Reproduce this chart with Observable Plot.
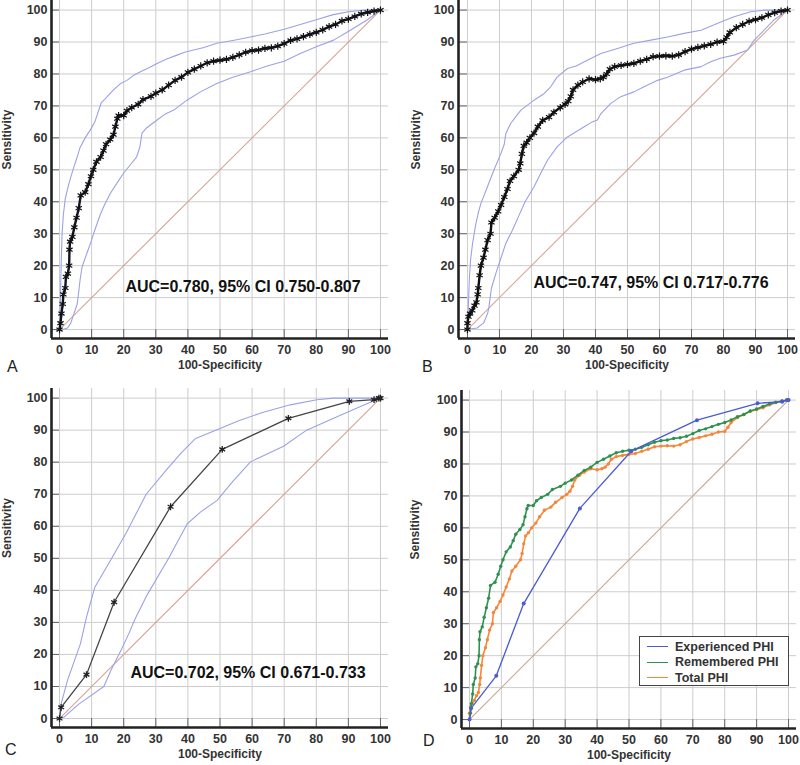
<!DOCTYPE html>
<html><head><meta charset="utf-8">
<script src="https://cdn.jsdelivr.net/npm/d3@7"></script>
<script src="https://cdn.jsdelivr.net/npm/@observablehq/plot@0.6"></script>
<style>
body{margin:0;background:#fff;}
#wrap{position:relative;width:800px;height:765px;overflow:hidden;font-family:"Liberation Sans",Arial,sans-serif;background:#fff;}
.panel{position:absolute;}
.letter{position:absolute;font-size:16px;line-height:20px;color:#222;}
.legend{position:absolute;left:639px;top:636px;width:150px;height:50px;border:1px solid #444;background:#fff;box-sizing:border-box;padding-top:2px;}
.legend .row{display:flex;align-items:center;height:15.5px;font-size:12.5px;font-weight:700;color:#333;font-family:"Liberation Sans",Arial,sans-serif;}
.legend .sw{width:21px;height:0;border-top:1.5px solid;margin-left:7px;margin-right:7px;}
</style></head><body><div id="wrap"></div>
<script>
// ---------- data ----------
const tickVals = [0,10,20,30,40,50,60,70,80,90,100];
const chance = [0,100];

// Panel A: Remembered PHI, AUC 0.780
const rocA = [[0,0],[0.3,2],[0.6,5],[1,8],[1.2,11],[1.8,13],[2,16.5],[2.6,17.5],[3,20],[3.1,25],[3.3,27.5],[4,29],[4.6,32],[5.3,35],[6,38],[6.6,42],[8,43],[9,45.5],[9.8,48],[10.5,50],[11.5,52.5],[12.8,54],[13.7,56],[14.5,58],[15.8,59.5],[16.8,61],[17.4,63.5],[18,66],[18.4,67],[20,67],[21,68.5],[22.5,69.5],[24.5,70.5],[26,72],[28.5,73],[30,74],[32,75],[34,76.5],[36,78],[38,79],[40,80.5],[42,81.5],[44,82.5],[46,83.5],[48,84],[50,84.3],[52,84.6],[54,85.2],[56,86],[58,86.8],[60,87.3],[62,87.5],[64,88],[66,88.2],[68,88.7],[70,89.5],[72,90.5],[74,91],[76,91.7],[78,92.4],[80,93],[82,93.8],[84,94.8],[86,95.5],[88,96.6],[90,97.2],[92,98],[94,98.8],[96,99.3],[98,99.7],[100,100]];
const ciUpperA = [[0,0],[0.3,10],[0.5,20],[0.8,30],[1.2,36],[1.8,41],[2.5,44],[3.3,47],[4.5,51],[5.5,54],[6.4,57],[8,60],[9.6,62.5],[11,65],[12,68],[13,71],[14,72],[16.8,75],[19,77],[21,78],[23,79.5],[25.2,80.7],[28,82],[30.4,83.3],[33,84.5],[36.6,85.9],[39,86.8],[41.8,87.5],[45,88.3],[49,89.6],[54,90.5],[59.5,91.6],[64,92.5],[70,94],[75,95.5],[80,97],[85,98.5],[90,99.5],[95,100],[100,100]];
const ciLowerA = [[0,0],[1,0],[2.5,0.5],[3.5,2],[4.5,5],[5.5,8],[6,12],[6.4,15.5],[7,19.5],[8.5,23.8],[10,28],[10.6,30],[12.7,36],[14,39],[15.8,42.6],[18,46],[20,49],[22,51.5],[24,54],[25,57],[25.7,61.5],[27,63],[30.4,65.6],[33,67.5],[35.6,68.7],[39.7,71.8],[43.9,74.4],[49,77],[54,79],[59.5,80.7],[64.7,82.5],[70,84],[75,86.4],[80,88.5],[85.4,90.6],[90.6,93.7],[95.8,96.9],[100,100]];

// Panel B: Total PHI, AUC 0.747
const rocB = [[0,0],[0,2],[0.3,4],[0.8,5],[1.5,6],[2.2,7.5],[2.8,8.5],[3.2,11],[3.4,13],[3.8,17],[4.2,20],[5,22.5],[5.6,25],[6.3,28],[7.2,30],[7.5,33.5],[8.5,35],[9.6,37],[10.5,39],[11.5,41.5],[12.5,44],[13.3,46.5],[14.5,48],[16,50],[16.5,52],[17,55],[17.6,57.5],[18.5,58.5],[19.5,60],[20.8,61.5],[22,63.5],[23.5,65.5],[25.5,66.5],[27,68],[29,69.5],[30.5,70.5],[31.5,71.5],[32.3,73],[33,75],[34.5,76.5],[36,77.5],[38,78.5],[40,78.2],[41.5,78.5],[42.5,79],[43.5,80],[44.5,81.5],[46,82.3],[48,82.7],[50,83],[52,83.3],[54,84],[56,84.6],[58,85.4],[60,85.6],[62,85.7],[64,85.6],[66,86],[68,87],[70,87.8],[72,88.3],[74,88.8],[76,89.3],[78,90],[80,90.2],[81,91.5],[82,93],[84,94.5],[86,95.5],[88,96.5],[90,97],[92,97.6],[94,98.5],[96,99.2],[98,99.7],[100,100]];
const ciUpperB = [[0,0],[0.3,8],[0.6,16],[1,22],[1.6,27],[2.6,33],[3.5,37],[4.2,39.5],[6.25,44.7],[8.3,50],[10.4,55],[11.5,58],[12,61.4],[13.5,64.5],[15,66.5],[16.7,68.7],[20.8,71.8],[24,73.9],[26,76],[28,79],[31.25,81.7],[34,82.5],[36.5,83.8],[41.7,86.4],[46.9,88],[52,89.6],[57.3,90.6],[62.5,91.6],[67.7,92.7],[73,93.7],[78,95.8],[83.3,97.9],[88.5,99.5],[93,100],[100,100]];
const ciLowerB = [[0,0],[3,0.5],[5,2],[6.3,5],[6.7,7],[7.5,13],[9,18],[10,21],[12,27],[14,31],[16,35.5],[18,40],[20.8,44.7],[22.9,48.9],[25,53],[28,57.2],[31.25,60.3],[36.5,63.5],[39,65],[40.6,65.6],[41.7,67.6],[44.8,70.8],[47.9,72.9],[52,74.4],[55.2,76],[59.4,78],[62.5,79],[67.7,81.2],[73,82.3],[76,83.8],[79,84.9],[83.3,85.9],[87.5,87.5],[89.6,90.6],[91.7,92.7],[95.8,96.9],[100,100]];

// Panel C: Experienced PHI, AUC 0.702
const rocC = [[0,0],[0.5,3.5],[8.4,13.7],[17,36.3],[34.6,66.1],[50.7,84],[71.3,93.7],[90.3,99],[98,99.5],[99.5,100],[100,100]];
const ciUpperC = [[0,0],[0.5,4.6],[2.5,12],[6.5,23.3],[8.5,32],[11,41],[15.9,49.4],[20.8,58],[27,70],[33.3,77.6],[38,83],[42.4,87.4],[50,90.5],[56,93],[63.5,95.6],[71.9,97.9],[80.2,99.5],[85.4,100],[100,100]];
const ciLowerC = [[0,0],[1.5,0.5],[6,4.5],[13.8,10],[16,15],[19,21],[21.6,26.5],[23.5,31],[27.3,38.6],[34,50],[39.8,60.8],[44,64.5],[49.1,68.1],[54,74],[59.5,80.1],[69.8,85],[77,90],[85.4,93.7],[93.75,97.4],[100,100]];

const aucTexts = ["AUC=0.780, 95% CI 0.750-0.807","AUC=0.747, 95% CI 0.717-0.776","AUC=0.702, 95% CI 0.671-0.733"];
const legendNames = ["Experienced PHI","Remembered PHI","Total PHI"];
const legendColors = ["#4a5ccf","#2e9150","#f5873a"];

// ---------- drawing ----------
const CI = "#9aa2e6", DIAG = "#d9a396", GRID = "#cdcdcd";
const FONT = "'Liberation Sans', Arial, sans-serif";
const wrap = document.getElementById("wrap");

function rocPlot(o) {
  const xd = o.xDom, yd = o.yDom;
  return Plot.plot({
    width: o.width, height: o.height,
    marginLeft: o.mL, marginRight: o.mR, marginTop: o.mT, marginBottom: o.mB,
    x: {domain: xd},
    y: {domain: yd},
    style: {fontFamily: FONT, background: "transparent", overflow: "visible"},
    marks: [
      Plot.gridX(tickVals, {stroke: GRID, strokeOpacity: 1}),
      Plot.gridY(tickVals, {stroke: GRID, strokeOpacity: 1}),
      Plot.ruleY(tickVals, {x1: xd[0], x2: 0, stroke: "#666"}),
      Plot.ruleX(tickVals, {y1: yd[0], y2: 0, stroke: "#666"}),
      Plot.axisX(tickVals, {tickSize: 0, tickPadding: 7, fontSize: 12.5, fontWeight: "bold", fill: "#333", label: null}),
      Plot.axisY(tickVals, {tickSize: 0, tickPadding: 4, fontSize: 12.5, fontWeight: "bold", fill: "#333", label: null}),
      Plot.line(chance, {x: d => d, y: d => d, stroke: o.diag || DIAG, strokeWidth: 1.1}),
      ...o.marks,
      Plot.ruleX([xd[0]], {stroke: "#222", strokeWidth: 2.6}),
      Plot.ruleY([yd[0]], {stroke: "#222", strokeWidth: 2.6}),
      Plot.text(["100-Specificity"], {frameAnchor: "bottom", dy: 30, fontSize: 12, fontWeight: "bold", fill: "#333"}),
      Plot.text(["Sensitivity"], {frameAnchor: "left", rotate: -90, dx: o.yLabDx, fontSize: 12, fontWeight: "bold", fill: "#333"}),
      ...(o.auc ? [Plot.text([o.auc], {frameAnchor: "bottom", dx: o.aucDx, dy: o.aucDy, fontSize: 16, fontWeight: "bold", fill: "#111"})] : [])
    ]
  });
}

function ciMarks(up, lo) {
  return [
    Plot.line(up, {x: d => d[0], y: d => d[1], stroke: CI, strokeWidth: 1.1}),
    Plot.line(lo, {x: d => d[0], y: d => d[1], stroke: CI, strokeWidth: 1.1})
  ];
}

function place(svg, left, top) {
  const d = document.createElement("div");
  d.className = "panel";
  d.style.left = left + "px"; d.style.top = top + "px";
  d.appendChild(svg);
  wrap.appendChild(d);
}

// Panel A
place(rocPlot({
  width: 400, height: 380, mL: 51, mR: 12, mT: 0, mB: 42,
  xDom: [-2.5, 102.5], yDom: [-2.8, 103], yLabDx: -44,
  auc: aucTexts[0], aucDx: 23, aucDy: -47,
  marks: [
    ...ciMarks(ciUpperA, ciLowerA),
    Plot.line(rocA, {x: d => d[0], y: d => d[1], stroke: "#141428", strokeWidth: 2.4}),
    Plot.dot(rocA, {x: d => d[0], y: d => d[1], symbol: "asterisk", r: 3.4, stroke: "#111", strokeWidth: 1.2})
  ]
}), 0, 0);

// Panel B
place(rocPlot({
  width: 400, height: 380, mL: 58, mR: 5, mT: 0, mB: 42,
  xDom: [-2.8, 102.5], yDom: [-2.8, 103], yLabDx: -42,
  auc: aucTexts[1], aucDx: 24, aucDy: -51,
  marks: [
    ...ciMarks(ciUpperB, ciLowerB),
    Plot.line(rocB, {x: d => d[0], y: d => d[1], stroke: "#111", strokeWidth: 2.4}),
    Plot.dot(rocB, {x: d => d[0], y: d => d[1], symbol: "asterisk", r: 3.4, stroke: "#111", strokeWidth: 1.2})
  ]
}), 400, 0);

// Panel C
place(rocPlot({
  width: 400, height: 385, mL: 51, mR: 12, mT: 8, mB: 38,
  xDom: [-2.5, 102.5], yDom: [-2.8, 103], yLabDx: -44,
  auc: aucTexts[2], aucDx: 28, aucDy: -50,
  marks: [
    ...ciMarks(ciUpperC, ciLowerC),
    Plot.line(rocC, {x: d => d[0], y: d => d[1], stroke: "#444", strokeWidth: 1.3}),
    Plot.dot(rocC, {x: d => d[0], y: d => d[1], symbol: "asterisk", r: 3.2, stroke: "#222", strokeWidth: 1.3})
  ]
}), 0, 380);

// Panel D
place(rocPlot({
  width: 400, height: 385, mL: 61, mR: 4, mT: 10, mB: 37,
  xDom: [-2.5, 102.5], yDom: [-2.8, 103], yLabDx: -46, diag: "#c9a398",
  marks: [
    Plot.line(rocB, {x: d => d[0], y: d => d[1], stroke: legendColors[2], strokeWidth: 1.6}),
    Plot.dot(rocB, {x: d => d[0], y: d => d[1], r: 1.7, fill: legendColors[2]}),
    Plot.line(rocA, {x: d => d[0], y: d => d[1], stroke: legendColors[1], strokeWidth: 1.6}),
    Plot.dot(rocA, {x: d => d[0], y: d => d[1], r: 1.7, fill: legendColors[1]}),
    Plot.line(rocC, {x: d => d[0], y: d => d[1], stroke: legendColors[0], strokeWidth: 1.3}),
    Plot.dot(rocC, {x: d => d[0], y: d => d[1], r: 2, fill: legendColors[0]})
  ]
}), 400, 380);

// Panel letters
[["A", 7, 357], ["B", 422, 357], ["C", 5, 740], ["D", 423, 731]].forEach(([t, l, tp]) => {
  const s = document.createElement("div");
  s.className = "letter"; s.textContent = t;
  s.style.left = l + "px"; s.style.top = tp + "px";
  wrap.appendChild(s);
});

// Legend for panel D
const lg = document.createElement("div");
lg.className = "legend";
legendNames.forEach((n, i) => {
  const r = document.createElement("div");
  r.className = "row";
  const sw = document.createElement("span");
  sw.className = "sw"; sw.style.borderTopColor = legendColors[i];
  const tx = document.createElement("span");
  tx.textContent = n;
  r.appendChild(sw); r.appendChild(tx);
  lg.appendChild(r);
});
wrap.appendChild(lg);
</script></body></html>
